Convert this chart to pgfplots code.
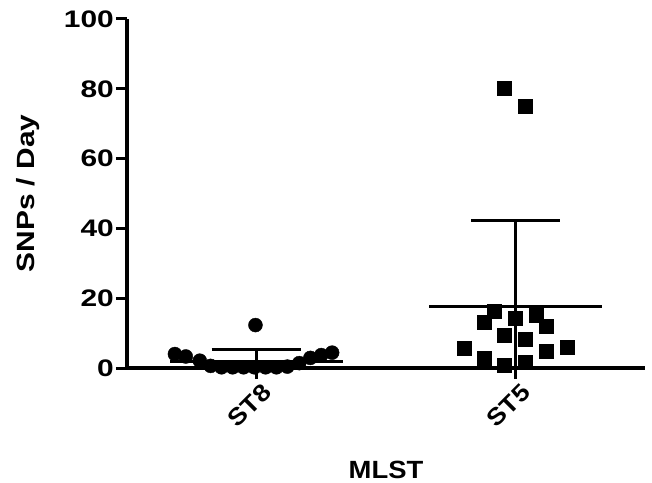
\documentclass[border=0pt]{standalone}
\usepackage{pgfplots}
\pgfplotsset{compat=1.18}
\usepackage{fontspec}
\setmainfont{Liberation Sans}
\begin{document}
\begin{tikzpicture}
\begin{axis}[
  scale only axis, width=518bp, height=349bp,
  xmin=-0.5, xmax=1.5, ymin=0, ymax=100,
  axis lines*=left,
  axis line style={line width=3.5bp, black},
  every tick/.style={black, line width=3bp},
  tick align=outside,
  major tick length=11bp,
  xtick={0,1}, xticklabels={\scalebox{1.12}[1]{ST8},\scalebox{1.12}[1]{ST5}},
  ytick={0,20,40,60,80,100},
  yticklabel={\scalebox{1.25}[1]{\pgfmathprintnumber{\tick}}},
  /pgf/number format/assume math mode=true,
  tick label style={font=\bfseries\fontsize{24}{24}\selectfont},
  yticklabel style={inner sep=2bp},
  xticklabel style={rotate=45, anchor=north east, inner sep=1bp, yshift=-4bp, xshift=2bp},
  clip=false,
  ylabel={\scalebox{1.2}[1]{SNPs / Day}},
  xlabel={\scalebox{1.1}[1]{MLST}},
  every axis y label/.style={at={(axis description cs:-0.191,0.5)}, rotate=90, anchor=center, font=\bfseries\fontsize{25}{25}\selectfont},
  every axis x label/.style={at={(axis description cs:0.5,-0.292)}, anchor=center, font=\bfseries\fontsize{25}{25}\selectfont},
]
% ST8 individual values
\addplot[only marks, mark=*, mark size=7bp, black] coordinates {
  (-0.315,4.0) (-0.273,3.3) (-0.219,2.1) (-0.177,0.6) (-0.135,0.2)
  (-0.092,0.2) (-0.050,0.2) (-0.008,0.2) (0.035,0.2) (0.077,0.2)
  (0.119,0.4) (0.165,1.4) (0.208,2.9) (0.250,3.7) (0.292,4.4)
  (-0.004,12.3)
};
% ST5 individual values
\addplot[only marks, mark=square*, mark size=7bp, black] coordinates {
  (0.958,80.3) (1.037,74.9) (0.919,16.4) (0.881,13.0) (1.000,14.4)
  (1.080,15.0) (1.118,12.1) (0.958,9.3) (1.037,8.2) (0.800,5.8)
  (1.200,6.1) (1.118,4.7) (0.881,2.9) (0.958,0.7) (1.037,1.6)
};
% ST8 mean and SD
\addplot[black, line width=3bp] coordinates {(-0.333,2.0) (0.333,2.0)};
\addplot[black, line width=3bp] coordinates {(-0.173,5.4) (0.173,5.4)};
\addplot[black, line width=3bp] coordinates {(0,0) (0,5.4)};
% ST5 mean and SD
\addplot[black, line width=3bp] coordinates {(0.667,17.6) (1.333,17.6)};
\addplot[black, line width=3bp] coordinates {(0.829,42.4) (1.171,42.4)};
\addplot[black, line width=3bp] coordinates {(1,0) (1,42.4)};
\end{axis}
\pgfresetboundingbox
\path (-127bp,-115bp) rectangle (525bp,368bp);
\end{tikzpicture}
\end{document}
